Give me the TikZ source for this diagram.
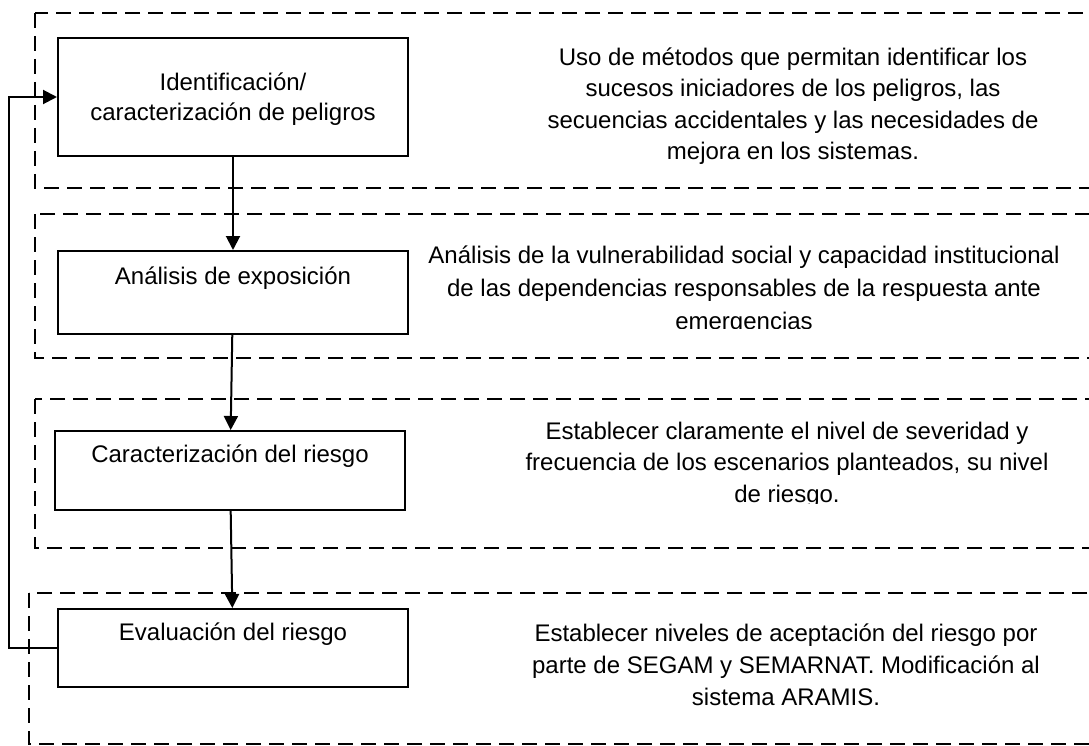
\documentclass[tikz,border=0pt]{standalone}
\usepackage{fontspec}
\setmainfont{Liberation Sans}
\usetikzlibrary{shapes,arrows.meta}
\tikzstyle{block} = [rectangle, draw, line width=2pt, align=center,
	minimum width=350pt, inner sep=0pt]
\tikzstyle{line} = [draw, line width=2pt, -{Triangle[length=14pt,width=14pt]}]
\tikzstyle{groupbox} = [draw, line width=1.8pt, dash pattern=on 15pt off 8pt]
\tikzstyle{note} = [align=center, font=\fontsize{24}{31.5}\selectfont]

\begin{document}
\begin{tikzpicture}[x=1pt, y=-1pt, node distance=178pt, auto,
	font=\fontsize{24}{30}\selectfont]
	\useasboundingbox (0,0) rectangle (1089,746);
	\clip (0,0) rectangle (1089,746);
	% Draw groups
	\draw [groupbox] (35,13) rectangle (1120,188);
	\draw [groupbox] (35,214) rectangle (1120,358);
	\draw [groupbox] (35,399) rectangle (1120,548);
	\draw [groupbox] (29,593) rectangle (1120,744);
	% Place nodes
	\node [block, minimum height=118pt] (ident) at (233,97) {\rule{0pt}{22pt}Identificación/\\caracterización de peligros};
	\node [block, below of=ident, node distance=195.5pt, minimum height=83pt] (expo) {Análisis de exposición\\ \rule[-3pt]{0pt}{0pt}};
	\node [block, below of=expo, xshift=-3pt, minimum height=79pt] (carac) {Caracterización del riesgo\\ \rule[-3pt]{0pt}{0pt}};
	\node [block, below of=carac, xshift=3pt, node distance=177.5pt, minimum height=78pt] (eval) {Evaluación del riesgo\\ \rule[-3pt]{0pt}{0pt}};
	% Place notes
	\node [note] (identnote) at (793,106) {Uso de métodos que permitan identificar los\\sucesos iniciadores de los peligros, las\\secuencias accidentales y las necesidades de\\mejora en los sistemas.};
	\begin{scope}
		\clip (400,200) rectangle (1089,328);
		\node [note, font=\fontsize{24}{33}\selectfont] (exponote) at (744,290.5) {Análisis de la vulnerabilidad social y capacidad institucional\\de las dependencias responsables de la respuesta ante\\emergencias};
	\end{scope}
	\begin{scope}
		\clip (400,400) rectangle (1089,503);
		\node [note] (caracnote) at (787,464.5) {Establecer claramente el nivel de severidad y\\frecuencia de los escenarios planteados, su nivel\\de riesgo.};
	\end{scope}
	\node [note, font=\fontsize{24}{32}\selectfont] (evalnote) at (786,665) {Establecer niveles de aceptación del riesgo por\\parte de SEGAM y SEMARNAT. Modificación al\\sistema ARAMIS.};
	% Draw edges
	\path [line] (ident) -- (expo);
	\path [line] (expo) -- (carac);
	\path [line] (carac) -- (eval);
	\path [line] (eval.west) -- ++(-48,0) |- (ident.west);
\end{tikzpicture}
\end{document}
